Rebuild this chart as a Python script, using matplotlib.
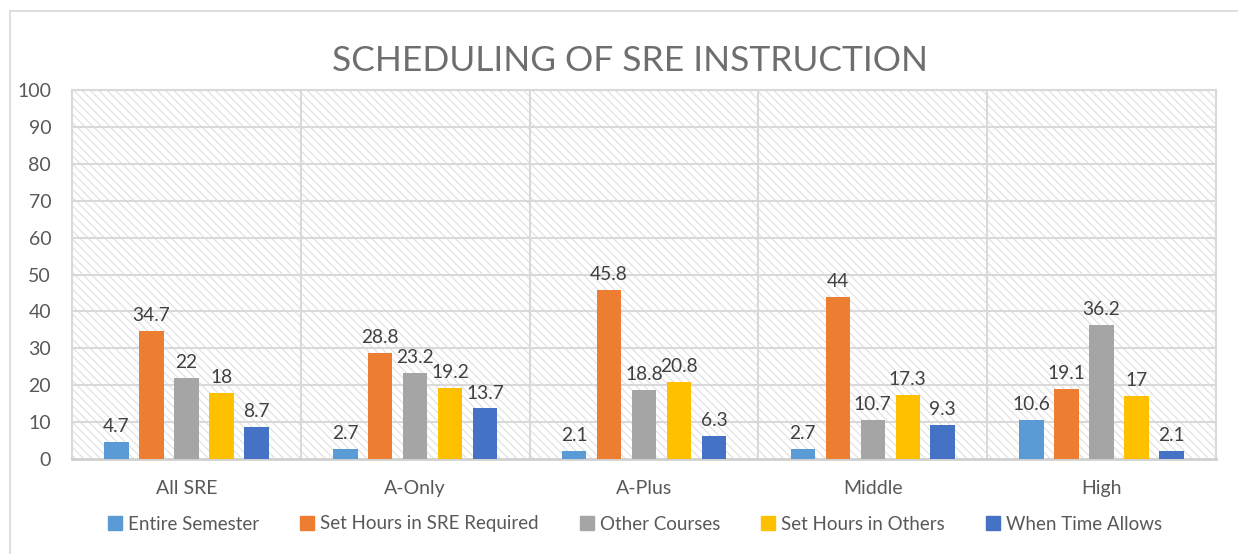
import matplotlib
matplotlib.use("Agg")
import matplotlib.pyplot as plt
from matplotlib.lines import Line2D
from matplotlib.patches import Rectangle
import numpy as np

categories = ["All SRE", "A-Only", "A-Plus", "Middle", "High"]
series_names = ["Entire Semester", "Set Hours in SRE Required", "Other Courses",
                "Set Hours in Others", "When Time Allows"]
entire_semester = [4.7, 2.7, 2.1, 2.7, 10.6]
set_hours_sre = [34.7, 28.8, 45.8, 44, 19.1]
other_courses = [22, 23.2, 18.8, 10.7, 36.2]
set_hours_others = [18, 19.2, 20.8, 17.3, 17]
when_time_allows = [8.7, 13.7, 6.3, 9.3, 2.1]
yticks = [0, 10, 20, 30, 40, 50, 60, 70, 80, 90, 100]
title = "SCHEDULING OF SRE INSTRUCTION"

colors = ["#5B9BD5", "#ED7D31", "#A5A5A5", "#FFC000", "#4472C4"]
series = [entire_semester, set_hours_sre, other_courses, set_hours_others, when_time_allows]

FONT = "Lato"
TXT = "#595959"
GRID = "#D9D9D9"
plt.rcParams["font.family"] = [FONT, "DejaVu Sans"]
plt.rcParams["hatch.color"] = "#E2E2E2"
plt.rcParams["hatch.linewidth"] = 0.9

W, H = 1238, 554
fig = plt.figure(figsize=(W / 100, H / 100), dpi=100)
fig.patch.set_facecolor("white")

# outer chart border (left and top visible)
fig.add_artist(Line2D([10 / W, 10 / W], [0, 1 - 11 / H], transform=fig.transFigure,
                      color=GRID, lw=1.2))
fig.add_artist(Line2D([10 / W, 1], [1 - 11 / H, 1 - 11 / H], transform=fig.transFigure,
                      color=GRID, lw=1.2))

ax = fig.add_axes([72 / W, 1 - 459 / H, (1216 - 72) / W, (459 - 90) / H])
ax.set_facecolor("white")
ax.add_patch(Rectangle((0, 0), 1, 1, transform=ax.transAxes, facecolor="white",
                       edgecolor="#E2E2E2", hatch="\\\\\\\\", lw=0, zorder=0))

x = np.arange(len(categories))
pitch = 35 / 229
width = 24.5 / 229
for i, (name, vals, c) in enumerate(zip(series_names, series, colors)):
    pos = x + (i - 2) * pitch
    bars = ax.bar(pos, vals, width=width, color=c, label=name, zorder=3)
    for b, v in zip(bars, vals):
        ax.annotate(f"{v:g}", (b.get_x() + b.get_width() / 2, v), xytext=(0, 5),
                    textcoords="offset points", ha="center", va="bottom",
                    fontsize=13.8, color="#404040", zorder=4)

ax.set_xlim(-0.5, len(categories) - 0.5)
ax.set_ylim(0, 100)
ax.set_yticks(yticks)
ax.set_yticklabels([str(t) for t in yticks])
ax.set_xticks(x)
ax.set_xticklabels(categories)
ax.tick_params(axis="both", length=0, labelsize=14, colors=TXT)
ax.tick_params(axis="y", pad=15)
ax.tick_params(axis="x", pad=15)

for yv in yticks[1:]:
    ax.axhline(yv, color=GRID, lw=1.5, zorder=1)
for xv in np.arange(0.5, len(categories) - 0.5, 1):
    ax.axvline(xv, color=GRID, lw=1.5, zorder=1)
for s in ["left", "right", "top"]:
    ax.spines[s].set_color(GRID)
    ax.spines[s].set_linewidth(1.5)
ax.spines["bottom"].set_color("#D0D0D0")
ax.spines["bottom"].set_linewidth(2)

fig.text(630 / W, 1 - 61 / H, title, ha="center", va="center", fontsize=25.5,
         color="#6E6E6E")

handles = [Rectangle((0, 0), 1, 1, color=c) for c in colors]
fig.legend(handles, series_names, loc="center", bbox_to_anchor=(635 / W, 1 - 524 / H),
           ncol=5, frameon=False, fontsize=13.5, handlelength=0.75, handleheight=0.75,
           handletextpad=0.3, columnspacing=2.2, labelcolor=TXT)

fig.savefig("out.png", dpi=100, facecolor="white")
